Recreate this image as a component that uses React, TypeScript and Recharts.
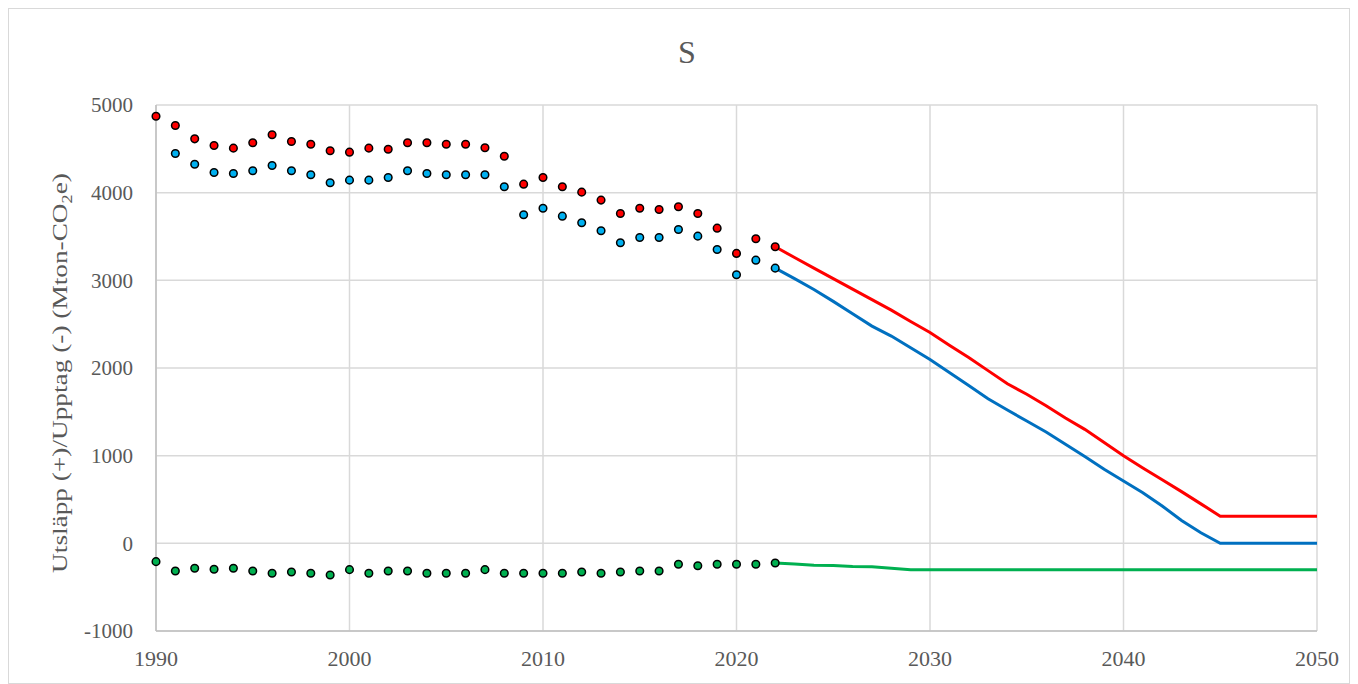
import React from 'react';
import { LineChart, Line, XAxis, YAxis, CartesianGrid } from 'recharts';

// historical years (dots)
const histYears = [
  1990, 1991, 1992, 1993, 1994, 1995, 1996, 1997, 1998, 1999,
  2000, 2001, 2002, 2003, 2004, 2005, 2006, 2007, 2008, 2009,
  2010, 2011, 2012, 2013, 2014, 2015, 2016, 2017, 2018, 2019,
  2020, 2021, 2022,
];
const redHist = [
  4872, 4766, 4614, 4538, 4508, 4569, 4660, 4584, 4553, 4478,
  4462, 4508, 4496, 4569, 4569, 4553, 4553, 4512, 4416, 4097,
  4173, 4067, 4006, 3915, 3763, 3823, 3808, 3839, 3763, 3595,
  3307, 3474, 3383,
];
const blueHist = [
  null, 4447, 4325, 4230, 4219, 4250, 4310, 4250, 4204, 4113,
  4143, 4143, 4173, 4250, 4219, 4204, 4204, 4204, 4067, 3748,
  3823, 3732, 3656, 3565, 3428, 3489, 3489, 3580, 3504, 3352,
  3064, 3230, 3139,
];
const greenHist = [
  -209, -316, -285, -296, -285, -316, -342, -327, -342, -361,
  -300, -342, -316, -316, -342, -342, -342, -300, -342, -342,
  -342, -342, -327, -342, -327, -316, -316, -239, -255, -239,
  -239, -239, -225,
];

// projection years (lines)
const projYears = [
  2022, 2023, 2024, 2025, 2026, 2027, 2028, 2029, 2030, 2031,
  2032, 2033, 2034, 2035, 2036, 2037, 2038, 2039, 2040, 2041,
  2042, 2043, 2044, 2045, 2046, 2047, 2048, 2049, 2050,
];
const redProj = [
  3383, 3260, 3140, 3020, 2900, 2780, 2660, 2530, 2406, 2260,
  2120, 1970, 1820, 1700, 1570, 1430, 1300, 1150, 1000, 860,
  726, 590, 450, 310, 310, 310, 310, 310, 310,
];
const blueProj = [
  3139, 3020, 2896, 2760, 2620, 2478, 2364, 2230, 2098, 1950,
  1800, 1650, 1520, 1395, 1270, 1130, 990, 844, 710, 578,
  426, 260, 120, 0, 0, 0, 0, 0, 0,
];
const greenProj = [
  -225, -235, -250, -252, -265, -268, -285, -300, -300, -300,
  -300, -300, -300, -300, -300, -300, -300, -300, -300, -300,
  -300, -300, -300, -300, -300, -300, -300, -300, -300,
];

const xTicks = [1990, 2000, 2010, 2020, 2030, 2040, 2050];
const yTicks = [-1000, 0, 1000, 2000, 3000, 4000, 5000];

type Row = { year: number; [k: string]: number | null };

const byYear: Record<number, Row> = {};
histYears.forEach((y, i) => {
  byYear[y] = { ...(byYear[y] || { year: y }), redHist: redHist[i], blueHist: blueHist[i], greenHist: greenHist[i] };
});
projYears.forEach((y, i) => {
  byYear[y] = { ...(byYear[y] || { year: y }), redProj: redProj[i], blueProj: blueProj[i], greenProj: greenProj[i] };
});
const rows = Object.values(byYear).sort((a, b) => a.year - b.year);

const txt = '#595959';
const font = '"Liberation Serif", "Times New Roman", serif';

const dotStyle = (fill: string) => ({ r: 3.8, fill, stroke: '#000', strokeWidth: 1.5 });

const XTick = (props: any) => {
  const { x, y, payload } = props;
  return (
    <text x={x} y={y + 28} textAnchor="middle" dy="0.34em" fontSize={22} fill={txt} fontFamily={font}>
      {payload.value}
    </text>
  );
};

export default function App() {
  return (
    <div
      style={{
        position: 'relative',
        width: 1340,
        height: 674,
        border: '1px solid #d9d9d9',
        background: '#fff',
        fontFamily: font,
      }}
    >
      <div
        style={{
          position: 'absolute',
          top: 25,
          left: 8,
          width: '100%',
          textAlign: 'center',
          fontSize: 32,
          lineHeight: '36px',
          color: txt,
        }}
      >
        S
      </div>
      <div
        style={{
          position: 'absolute',
          left: 53,
          top: 364,
          transform: 'translate(-50%, -50%) rotate(-90deg) scaleX(1.3)',
          whiteSpace: 'nowrap',
          fontSize: 21,
          color: txt,
        }}
      >
        Utsläpp (+)/Upptag (-) (Mton-CO<sub style={{ fontSize: 14 }}>2</sub>e)
      </div>
      <LineChart
        width={1340}
        height={674}
        data={rows}
        margin={{ top: 96, right: 32, bottom: 22, left: 67 }}
      >
        <CartesianGrid stroke="#d9d9d9" strokeWidth={1.5} />
        <XAxis
          dataKey="year"
          type="number"
          domain={[1990, 2050]}
          ticks={xTicks}
          height={30}
          tickSize={0}
          tickMargin={0}
          axisLine={{ stroke: '#bfbfbf', strokeWidth: 1.5 }}
          tick={<XTick />}
        />
        <YAxis
          type="number"
          domain={[-1000, 5000]}
          ticks={yTicks}
          width={80}
          tickSize={0}
          tickMargin={23}
          axisLine={{ stroke: '#bfbfbf', strokeWidth: 1.5 }}
          tick={{ fill: txt, fontSize: 21, fontFamily: font }}
        />
        <Line dataKey="greenProj" stroke="#00b050" strokeWidth={3} dot={false} activeDot={false} isAnimationActive={false} />
        <Line dataKey="blueProj" stroke="#0070c0" strokeWidth={3} dot={false} activeDot={false} isAnimationActive={false} />
        <Line dataKey="redProj" stroke="#ff0000" strokeWidth={3} dot={false} activeDot={false} isAnimationActive={false} />
        <Line dataKey="greenHist" stroke="none" dot={dotStyle('#00b050')} activeDot={false} isAnimationActive={false} />
        <Line dataKey="blueHist" stroke="none" dot={dotStyle('#00b0f0')} activeDot={false} isAnimationActive={false} />
        <Line dataKey="redHist" stroke="none" dot={dotStyle('#ff0000')} activeDot={false} isAnimationActive={false} />
      </LineChart>
    </div>
  );
}
